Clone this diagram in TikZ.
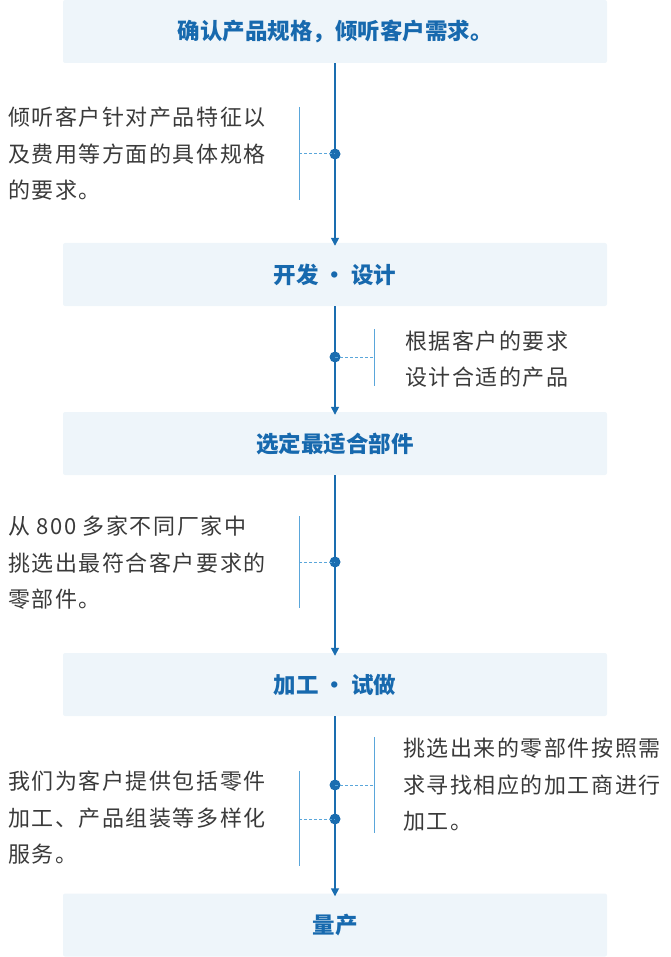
\documentclass[tikz,border=0pt]{standalone}
\usepackage{fontspec}
\setmainfont{Noto Sans CJK SC}
\newfontfamily\descfont[LetterSpace=7]{Noto Sans CJK SC}
\usetikzlibrary{arrows.meta}
\definecolor{boxfill}{HTML}{EEF5FA}
\definecolor{titleblue}{HTML}{1769AE}
\definecolor{linkblue}{HTML}{1A6DB0}
\definecolor{brkblue}{HTML}{5AA6DA}
\definecolor{txtgray}{HTML}{3A3A3A}
\tikzset{
  stepbox/.style={fill=boxfill, draw=none, rounded corners=2pt, minimum width=544pt, minimum height=63pt, inner sep=0pt,
    font=\fontsize{22.5}{26}\selectfont\bfseries, text=titleblue},
  flow/.style={draw=linkblue, line width=1.6pt, -{Triangle[length=8pt,width=8pt]}},
  dotmark/.style={circle, fill=linkblue, inner sep=0pt, minimum size=11pt},
  brk/.style={draw=brkblue, line width=1pt},
  dots/.style={draw=brkblue, line width=1pt, dash pattern=on 3pt off 2pt},
  desc/.style={align=left, inner sep=0pt, text=txtgray, font=\descfont\fontsize{22}{36.5}\selectfont}
}
\begin{document}
\begin{tikzpicture}[x=1pt,y=-1pt]
\useasboundingbox (0,0) rectangle (670,957);
% boxes
\node[stepbox] (b1) at (335,31.5) {确认产品规格，倾听客户需求。};
\node[stepbox] (b2) at (335,274.5) {开发 · 设计};
\node[stepbox] (b3) at (335,443.5) {选定最适合部件};
\node[stepbox] (b4) at (335,684.5) {加工 · 试做};
\node[stepbox] (b5) at (335,925) {量产};
% connectors
\draw[flow] (b1.south) -- ([yshift=-3pt]b2.north);
\draw[flow] (b2.south) -- ([yshift=-3pt]b3.north);
\draw[flow] (b3.south) -- ([yshift=-3pt]b4.north);
\draw[flow] (b4.south) -- ([yshift=-3pt]b5.north);
% step 1
\node[dotmark] (d1) at (335,154) {};
\coordinate (l1t) at (299,107); \coordinate (l1b) at (299,200); \coordinate (l1m) at (299,154);
\draw[brk] (l1t) -- (l1b);
\draw[dots] (l1m) -- (d1.center);
\node[desc, anchor=west] (t1) at (8,154) {倾听客户针对产品特征以\\及费用等方面的具体规格\\的要求。};
% step 2
\node[dotmark] (d2) at (335,357) {};
\coordinate (r2t) at (374,329); \coordinate (r2b) at (374,386); \coordinate (r2m) at (374,357);
\draw[brk] (r2t) -- (r2b);
\draw[dots] (d2.center) -- (r2m);
\node[desc, anchor=west] (t2) at (405,359) {根据客户的要求\\设计合适的产品};
% step 3
\node[dotmark] (d3) at (335,562) {};
\coordinate (l3t) at (299,516); \coordinate (l3b) at (299,608); \coordinate (l3m) at (299,562);
\draw[brk] (l3t) -- (l3b);
\draw[dots] (l3m) -- (d3.center);
\node[desc, anchor=west] (t3) at (8,563) {从 800 多家不同厂家中\\挑选出最符合客户要求的\\零部件。};
% step 4
\node[dotmark] (d4a) at (335,785) {};
\node[dotmark] (d4b) at (335,819) {};
\coordinate (r4t) at (374,737); \coordinate (r4b) at (374,833); \coordinate (r4m) at (374,785);
\draw[brk] (r4t) -- (r4b);
\draw[dots] (d4a.center) -- (r4m);
\node[desc, anchor=west] (t4r) at (403,785) {挑选出来的零部件按照需\\求寻找相应的加工商进行\\加工。};
\coordinate (l4t) at (299,771); \coordinate (l4b) at (299,866); \coordinate (l4m) at (299,819);
\draw[brk] (l4t) -- (l4b);
\draw[dots] (l4m) -- (d4b.center);
\node[desc, anchor=west] (t4l) at (8,818) {我们为客户提供包括零件\\加工、产品组装等多样化\\服务。};
\end{tikzpicture}
\end{document}
